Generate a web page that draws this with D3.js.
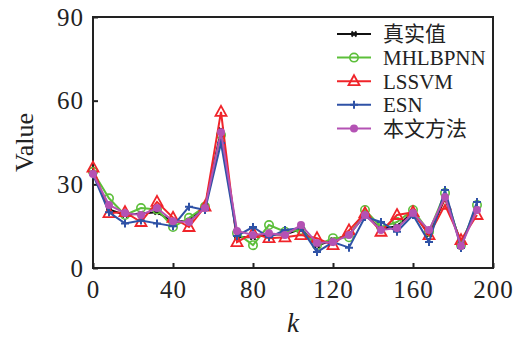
<!DOCTYPE html>
<html>
<head>
<meta charset="utf-8">
<script src="https://cdn.jsdelivr.net/npm/d3@7"></script>
<style>
  body { margin: 0; background: #fff; }
  text { font-family: "Liberation Serif", "Noto Sans CJK SC", serif; fill: #222; }
</style>
</head>
<body>
<figure id="chart" style="margin:0"></figure>
<script>
// sample index
const ks = [0, 8, 16, 24, 32, 40, 48, 56, 64, 72, 80, 88, 96, 104, 112, 120, 128, 136, 144, 152, 160, 168, 176, 184, 192];

// series values
const truth   = [34, 21, 19, 19.5, 20, 16.5, 17, 22, 49.5, 11, 11, 12, 12, 14, 8, 10, 12, 19, 14, 15, 20, 12, 25, 9, 21];
const mhlbpnn = [34.5, 25, 19, 21.5, 21, 14.7, 18, 22, 47.7, 12.5, 8.2, 15.4, 13, 13.6, 8.2, 10.7, 11, 20.8, 14.7, 16.5, 20.8, 13, 26.9, 8.2, 22.6];
const lssvm   = [36, 19.7, 20, 16.5, 23.7, 18, 14.7, 22, 56, 9.3, 12.5, 10.7, 11, 11.8, 10.7, 8.2, 13.5, 19.7, 13, 19, 20, 11.8, 22.6, 10, 19];
const esn     = [33.5, 20, 16, 17, 16, 15, 22, 20.8, 44.8, 11.5, 14.7, 11, 13.6, 14.3, 5.7, 9.3, 7.3, 18.3, 16.5, 13, 19, 9.3, 28, 7.2, 23.7];
const ours    = [33.7, 22.6, 19.7, 19, 21.5, 16.8, 16.5, 21.5, 48.7, 13.3, 11.8, 12.5, 11.8, 15.4, 9, 9.3, 11.8, 19, 13.6, 14.3, 19.7, 13.6, 25.5, 7.9, 20.8];

const names = ["真实值", "MHLBPNN", "LSSVM", "ESN", "本文方法"];
const xTicks = [0, 40, 80, 120, 160, 200];
const yTicks = [0, 30, 60, 90];

const W = 522, H = 338;
const margin = { top: 17, right: 29, bottom: 70, left: 93 };
const width = W - margin.left - margin.right;
const height = H - margin.top - margin.bottom;

const svg = d3.select("#chart").append("svg")
  .attr("width", W).attr("height", H);
const g = svg.append("g")
  .attr("transform", `translate(${margin.left},${margin.top})`);

const x = d3.scaleLinear().domain([0, 200]).range([0, width]);
const y = d3.scaleLinear().domain([0, 90]).range([height, 0]);

// axes with inward ticks
const xAxis = g.append("g")
  .attr("transform", `translate(0,${height})`)
  .call(d3.axisBottom(x).tickValues(xTicks).tickSize(-5).tickPadding(9));
const yAxis = g.append("g")
  .call(d3.axisLeft(y).tickValues(yTicks).tickSize(-5).tickPadding(9));
[xAxis, yAxis].forEach(a => {
  a.select(".domain").remove();
  a.selectAll("line").attr("stroke", "#222").attr("stroke-width", 2);
  a.selectAll("text").style("font-size", "25px").attr("letter-spacing", "1px");
});
xAxis.selectAll("text").attr("dy", "0.85em");

// frame
g.append("rect")
  .attr("width", width).attr("height", height)
  .attr("fill", "none").attr("stroke", "#222").attr("stroke-width", 2);

// axis titles
svg.append("text")
  .attr("x", margin.left + width / 2).attr("y", 332)
  .attr("text-anchor", "middle")
  .style("font-size", "27px").style("font-style", "italic")
  .text("k");
svg.append("text")
  .attr("transform", `translate(33,${margin.top + height / 2}) rotate(-90)`)
  .attr("text-anchor", "middle")
  .style("font-size", "26px")
  .text("Value");

// marker painters
function drawMarker(sel, type, color) {
  if (type === "x") {
    sel.append("path").attr("d", "M-2.5,-2.5L2.5,2.5M-2.5,2.5L2.5,-2.5M-3,0L3,0")
      .attr("stroke", color).attr("stroke-width", 1.8).attr("fill", "none");
  } else if (type === "circle") {
    sel.append("circle").attr("r", 4.2)
      .attr("fill", "none").attr("stroke", color).attr("stroke-width", 1.6);
  } else if (type === "triangle") {
    sel.append("path").attr("d", "M0,-6L5.5,4L-5.5,4Z")
      .attr("fill", "none").attr("stroke", color).attr("stroke-width", 1.8);
  } else if (type === "plus") {
    sel.append("path").attr("d", "M-4,0L4,0M0,-4L0,4")
      .attr("stroke", color).attr("stroke-width", 2).attr("fill", "none");
  } else if (type === "dot") {
    sel.append("circle").attr("r", 4).attr("fill", color);
  }
}

const series = [
  { name: names[0], values: truth,   color: "#111111", marker: "x" },
  { name: names[1], values: mhlbpnn, color: "#5cbf3a", marker: "circle" },
  { name: names[2], values: lssvm,   color: "#f0242a", marker: "triangle" },
  { name: names[3], values: esn,     color: "#2f52a6", marker: "plus" },
  { name: names[4], values: ours,    color: "#b452b4", marker: "dot" }
];

const line = d3.line().x(d => x(d[0])).y(d => y(d[1]));

series.forEach(s => {
  const pts = ks.map((k, i) => [k, s.values[i]]);
  g.append("path").datum(pts)
    .attr("d", line)
    .attr("fill", "none")
    .attr("stroke", s.color)
    .attr("stroke-width", 2);
  g.selectAll(null).data(pts).enter().append("g")
    .attr("transform", d => `translate(${x(d[0])},${y(d[1])})`)
    .each(function () { drawMarker(d3.select(this), s.marker, s.color); });
});

// legend
const legend = svg.append("g").attr("transform", "translate(337,34)");
series.forEach((s, i) => {
  const row = legend.append("g").attr("transform", `translate(0,${i * 23.6})`);
  row.append("line").attr("x1", 0).attr("x2", 34)
    .attr("stroke", s.color).attr("stroke-width", 2);
  drawMarker(row.append("g").attr("transform", "translate(17,0)"), s.marker, s.color);
  row.append("text").attr("x", 46).attr("dy", "0.35em")
    .style("font-size", "21px")
    .text(s.name);
});
</script>
</body>
</html>
